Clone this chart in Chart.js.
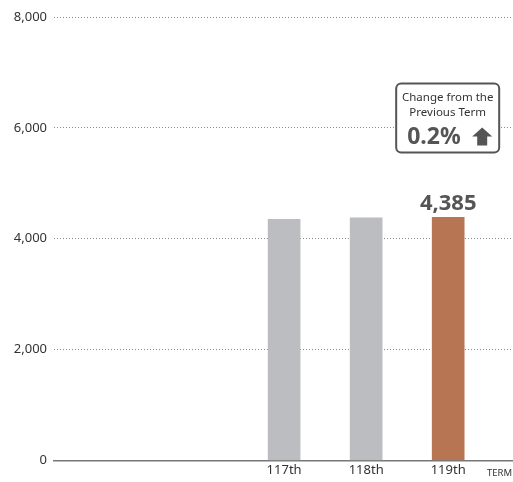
<!DOCTYPE html>
<html>
<head>
<meta charset="utf-8">
<script src="https://cdn.jsdelivr.net/npm/chart.js@4.4.1/dist/chart.umd.min.js"></script>
<style>
html,body{margin:0;padding:0;background:#fff;}
#wrap{width:513px;height:482px;position:relative;}
</style>
</head>
<body>
<div id="wrap"><canvas id="c" width="513" height="482"></canvas></div>
<script>
const terms = [117, 118, 119];
const termLabels = ['117th', '118th', '119th'];
const values = [4352, 4376, 4385];
const yTicks = [0, 2000, 4000, 6000, 8000];
const changeText = '0.2%';
const axisTitle = 'TERM';

const FONT = "'Noto Sans', 'Open Sans', sans-serif";
const DARK = '#555555';

const overlay = {
  id: 'overlay',
  afterDatasetsDraw(chart) {
    const ctx = chart.ctx;
    const meta = chart.getDatasetMeta(0);
    const last = meta.data[meta.data.length - 1];
    ctx.save();
    // value label
    ctx.fillStyle = DARK;
    ctx.font = "bold 22px " + FONT;
    ctx.textAlign = 'center';
    ctx.textBaseline = 'alphabetic';
    ctx.fillText(values[values.length - 1].toLocaleString('en-US'), last.x, last.y - 7);
    // change box
    const bw = 103, bh = 69;
    const bx = last.x - bw / 2 - 0.5, by = last.y - 134;
    ctx.lineWidth = 2;
    ctx.strokeStyle = DARK;
    ctx.fillStyle = '#fff';
    ctx.beginPath();
    ctx.roundRect(bx, by, bw, bh, 5);
    ctx.fill();
    ctx.stroke();
    ctx.fillStyle = '#333';
    ctx.textAlign = 'center';
    ctx.font = "11.5px " + FONT;
    ctx.fillText('Change from the', bx + bw / 2, by + 18);
    ctx.fillText('Previous Term', bx + bw / 2, by + 33);
    ctx.fillStyle = DARK;
    ctx.font = "bold 23px " + FONT;
    ctx.textAlign = 'left';
    ctx.fillText(changeText, bx + 11, by + 61);
    // arrow
    const ax = bx + 86, ay = by + 44;
    ctx.beginPath();
    ctx.moveTo(ax, ay);
    ctx.lineTo(ax + 10, ay + 9);
    ctx.lineTo(ax + 5, ay + 9);
    ctx.lineTo(ax + 5, ay + 18);
    ctx.lineTo(ax - 5, ay + 18);
    ctx.lineTo(ax - 5, ay + 9);
    ctx.lineTo(ax - 10, ay + 9);
    ctx.closePath();
    ctx.fill();
    // axis title
    const xs = chart.scales.x;
    ctx.fillStyle = '#333';
    ctx.font = "9.5px " + FONT;
    ctx.textAlign = 'right';
    ctx.fillText(axisTitle, xs.right - 1, xs.top + 15);
    ctx.restore();
  }
};

new Chart(document.getElementById('c'), {
  type: 'bar',
  data: {
    datasets: [{
      data: terms.map((t, i) => ({ x: t, y: values[i] })),
      backgroundColor: values.map((v, i) => i === values.length - 1 ? '#b77553' : '#bcbdc1'),
      barThickness: 32
    }]
  },
  options: {
    responsive: false,
    animation: false,
    layout: { padding: { top: 17, right: 0, left: 0, bottom: 0 } },
    plugins: { legend: { display: false }, tooltip: { enabled: false } },
    scales: {
      x: {
        type: 'linear',
        offset: false,
        min: 114.195,
        max: 119.79,
        afterBuildTicks(s) { s.ticks = terms.map(t => ({ value: t })); },
        afterFit(s) { s.height = 21.5; },
        ticks: {
          autoSkip: false,
          maxRotation: 0,
          padding: 2,
          color: '#333',
          font: { family: FONT, size: 13 },
          callback(v) { const i = terms.indexOf(v); return i >= 0 ? termLabels[i] : ''; }
        },
        grid: { display: false, drawTicks: false, offset: false },
        border: { display: true, color: '#777', width: 1.5 }
      },
      y: {
        min: 0,
        max: 8000,
        afterBuildTicks(s) { s.ticks = yTicks.map(v => ({ value: v })); },
        afterFit(s) { s.width = 54; },
        ticks: {
          padding: 7,
          color: '#333',
          font: { family: FONT, size: 13 },
          callback(v) { return v.toLocaleString('en-US'); }
        },
        grid: {
          drawTicks: false,
          color: (c) => c.tick && c.tick.value === 0 ? 'rgba(0,0,0,0)' : '#8a8a8a',
          lineWidth: 1
        },
        border: { display: false, dash: [1, 2] }
      }
    }
  },
  plugins: [overlay]
});
</script>
</body>
</html>
